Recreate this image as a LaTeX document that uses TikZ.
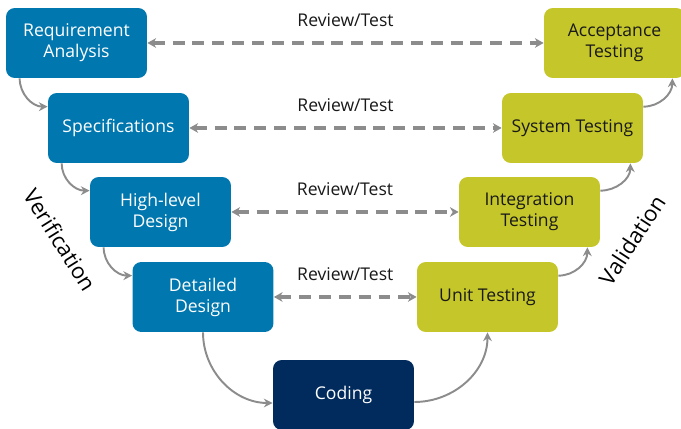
\documentclass[tikz,border=0pt]{standalone}
\usepackage{fontspec}
\setmainfont{Open Sans}
\usepackage{tikz}
\usetikzlibrary{arrows.meta}
\definecolor{vblue}{RGB}{0,119,175}
\definecolor{vnavy}{RGB}{0,43,92}
\definecolor{vlime}{RGB}{197,198,41}
\definecolor{vgray}{RGB}{140,140,140}
\definecolor{vtext}{RGB}{25,25,25}

\begin{document}
\begin{tikzpicture}[x=0.02cm,y=-0.02cm,
    phase/.style={rounded corners=5pt,minimum width=2.82cm,minimum height=1.4cm,
      align=center,inner sep=2pt,font=\fontsize{10}{12}\selectfont},
    verif/.style={phase,fill=vblue,text=white},
    valid/.style={phase,fill=vlime,text=vtext},
    flow/.style={draw=vgray,line width=1.1pt,-{Stealth[length=5pt,width=5pt]}},
    review/.style={draw=vgray,line width=1.8pt,dash pattern=on 6.8pt off 4.5pt,
      {Stealth[length=5pt,width=5.5pt]}-{Stealth[length=5pt,width=5.5pt]}},
    rtext/.style={above=5pt,text=vtext,font=\fontsize{10}{12}\selectfont},
    side/.style={font=\fontsize{12.5}{14}\selectfont,text=black}]
    \useasboundingbox (0,0) rectangle (681,429);
    \node[verif] (req) at (76.5,43) {Requirement\\Analysis};
    \node[verif] (spec) at (118.5,128) {Specifications};
    \node[verif] (hld) at (160.5,212) {High-level\\Design};
    \node[verif] (dd) at (203,297) {Detailed\\Design};
    \node[phase,fill=vnavy,text=white] (code) at (343.5,395) {Coding};
    \node[valid] (unit) at (487.5,297) {Unit Testing};
    \node[valid] (integ) at (529.5,212) {Integration\\Testing};
    \node[valid] (sys) at (572.5,128) {System Testing};
    \node[valid] (acc) at (614.5,43) {Acceptance\\Testing};
    \draw[review] (req) -- node[rtext] (r1) {Review/Test} (acc);
    \draw[review] (spec) -- node[rtext] (r2) {Review/Test} (sys);
    \draw[review] (hld) -- node[rtext] (r3) {Review/Test} (integ);
    \draw[review] (dd) -- node[rtext] (r4) {Review/Test} (unit);
    \foreach \a/\b in {req/spec,spec/hld,hld/dd}
      \draw[flow] ([xshift=0.28cm]\a.south west) to[out=-90,in=180] ([yshift=-0.28cm]\b.north west);
    \draw[flow] (dd.south) to[out=-90,in=180] ([yshift=-0.16cm]code.west);
    \draw[flow] ([yshift=-0.14cm]code.east) to[out=0,in=-90] (unit.south);
    \foreach \a/\b in {unit/integ,integ/sys,sys/acc}
      \draw[flow] ([yshift=-0.28cm]\a.north east) to[out=0,in=-90] ([xshift=-0.26cm]\b.south east);
    \node[side,rotate=-58] (verification) at (60,240) {Verification};
    \node[side,rotate=57] (validation) at (632,240) {Validation};
  \end{tikzpicture}
\end{document}
